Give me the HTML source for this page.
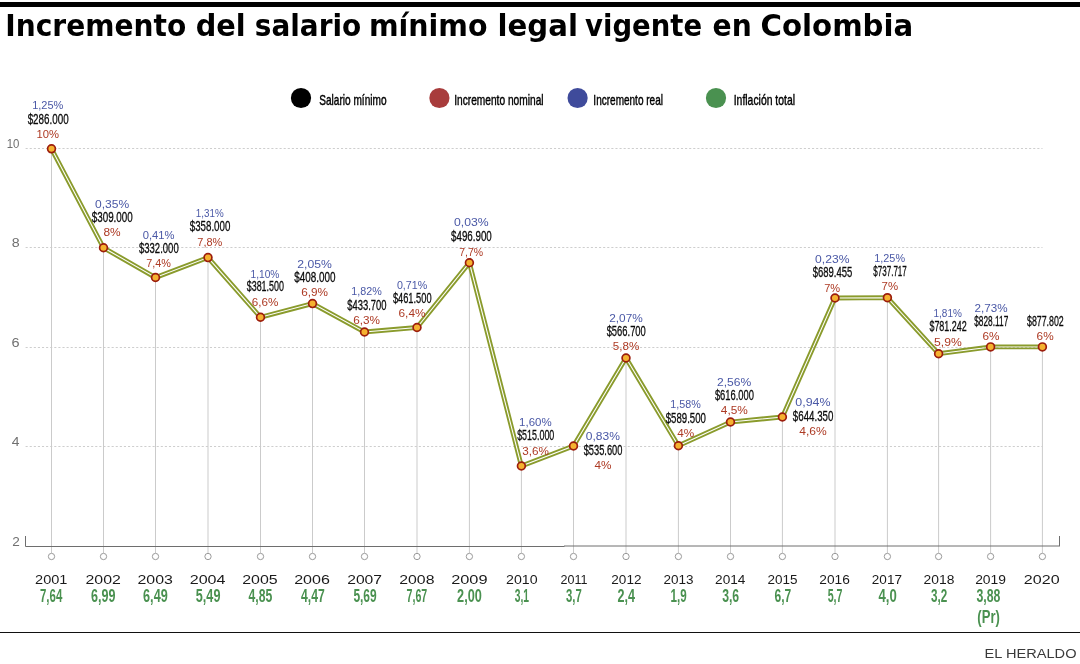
<!DOCTYPE html>
<html lang="es"><head><meta charset="utf-8"><title>Incremento del salario mínimo legal vigente en Colombia</title>
<style>html,body{margin:0;padding:0;background:#fff}svg{display:block}.c{font-family:'Liberation Sans', Arial, sans-serif}.w{font-family:'DejaVu Sans', 'Liberation Sans', sans-serif}</style></head><body>
<svg width="1080" height="664" viewBox="0 0 1080 664" role="img" aria-label="Incremento del salario mínimo legal vigente en Colombia">
<rect width="1080" height="664" fill="#fff"/>
<rect x="0" y="2" width="1080" height="5" fill="#000"/>
<g font-size="30.3" font-weight="bold" fill="#000">
<text class="w" x="5.32" y="36.00" textLength="180.88" lengthAdjust="spacingAndGlyphs">Incremento</text>
<text class="w" x="195.71" y="36.00" textLength="49.96" lengthAdjust="spacingAndGlyphs">del</text>
<text class="w" x="254.80" y="36.00" textLength="106.40" lengthAdjust="spacingAndGlyphs">salario</text>
<text class="w" x="368.89" y="36.00" textLength="118.58" lengthAdjust="spacingAndGlyphs">mínimo</text>
<text class="w" x="497.55" y="36.00" textLength="80.40" lengthAdjust="spacingAndGlyphs">legal</text>
<text class="w" x="585.08" y="36.00" textLength="116.99" lengthAdjust="spacingAndGlyphs">vigente</text>
<text class="w" x="712.54" y="36.00" textLength="39.16" lengthAdjust="spacingAndGlyphs">en</text>
<text class="w" x="760.54" y="36.00" textLength="152.75" lengthAdjust="spacingAndGlyphs">Colombia</text>
</g>
<circle cx="301" cy="98" r="10.1" fill="#000"/>
<circle cx="439.4" cy="98" r="10.1" fill="#a83c3c"/>
<circle cx="577.6" cy="98" r="10.1" fill="#3f4b9b"/>
<circle cx="716" cy="98" r="10.1" fill="#4a9150"/>
<g font-size="14.4" fill="#000" stroke="#000" stroke-width="0.42">
<text class="c" x="319.24" y="104.90" textLength="67.28" lengthAdjust="spacingAndGlyphs">Salario mínimo</text>
<text class="c" x="454.16" y="104.90" textLength="89.42" lengthAdjust="spacingAndGlyphs">Incremento nominal</text>
<text class="c" x="593.37" y="104.90" textLength="69.60" lengthAdjust="spacingAndGlyphs">Incremento real</text>
<text class="c" x="733.74" y="104.90" textLength="61.26" lengthAdjust="spacingAndGlyphs">Inflación total</text>
</g>
<g stroke="#cecece" stroke-width="1" stroke-dasharray="2.1 1.996" fill="none">
<line x1="25.6" y1="148.5" x2="1042.5" y2="148.5"/>
<line x1="25.6" y1="247.5" x2="1042.5" y2="247.5"/>
<line x1="25.6" y1="347.5" x2="1042.5" y2="347.5"/>
<line x1="25.6" y1="446.5" x2="1042.5" y2="446.5"/>
</g>
<g stroke="#cbcbcb" stroke-width="1" fill="none">
<line x1="51.5" y1="148.8" x2="51.5" y2="553.2"/>
<line x1="103.5" y1="247.75" x2="103.5" y2="553.2"/>
<line x1="155.5" y1="277.5" x2="155.5" y2="553.2"/>
<line x1="208.0" y1="257.6" x2="208.0" y2="553.2"/>
<line x1="260.5" y1="317.25" x2="260.5" y2="553.2"/>
<line x1="312.5" y1="303.6" x2="312.5" y2="553.2"/>
<line x1="364.5" y1="332" x2="364.5" y2="553.2"/>
<line x1="417.0" y1="327.5" x2="417.0" y2="553.2"/>
<line x1="469.4" y1="262.75" x2="469.4" y2="553.2"/>
<line x1="521.4" y1="466" x2="521.4" y2="553.2"/>
<line x1="573.5" y1="446" x2="573.5" y2="553.2"/>
<line x1="626.0" y1="358" x2="626.0" y2="553.2"/>
<line x1="678.4" y1="445.75" x2="678.4" y2="553.2"/>
<line x1="730.5" y1="422" x2="730.5" y2="553.2"/>
<line x1="782.4" y1="417" x2="782.4" y2="553.2"/>
<line x1="835.0" y1="298" x2="835.0" y2="553.2"/>
<line x1="887.4" y1="297.7" x2="887.4" y2="553.2"/>
<line x1="938.6" y1="353.75" x2="938.6" y2="553.2"/>
<line x1="990.6" y1="346.9" x2="990.6" y2="553.2"/>
<line x1="1042.4" y1="346.9" x2="1042.4" y2="553.2"/>
</g>
<path d="M25.5 536V546.5H564.5M564 546H1059M1059.5 536V546.5" fill="none" stroke="#6e6e6e" stroke-width="1"/>
<g stroke="#9a9a9a" stroke-width="1" fill="#fff">
<circle cx="51.5" cy="556.5" r="3.15"/>
<circle cx="103.5" cy="556.5" r="3.15"/>
<circle cx="155.5" cy="556.5" r="3.15"/>
<circle cx="208.0" cy="556.5" r="3.15"/>
<circle cx="260.5" cy="556.5" r="3.15"/>
<circle cx="312.5" cy="556.5" r="3.15"/>
<circle cx="364.5" cy="556.5" r="3.15"/>
<circle cx="417.0" cy="556.5" r="3.15"/>
<circle cx="469.4" cy="556.5" r="3.15"/>
<circle cx="521.4" cy="556.5" r="3.15"/>
<circle cx="573.5" cy="556.5" r="3.15"/>
<circle cx="626.0" cy="556.5" r="3.15"/>
<circle cx="678.4" cy="556.5" r="3.15"/>
<circle cx="730.5" cy="556.5" r="3.15"/>
<circle cx="782.4" cy="556.5" r="3.15"/>
<circle cx="835.0" cy="556.5" r="3.15"/>
<circle cx="887.4" cy="556.5" r="3.15"/>
<circle cx="938.6" cy="556.5" r="3.15"/>
<circle cx="990.6" cy="556.5" r="3.15"/>
<circle cx="1042.4" cy="556.5" r="3.15"/>
</g>
<g font-size="12.6" fill="#707070">
<text class="c" x="6.73" y="147.70" textLength="12.72" lengthAdjust="spacingAndGlyphs">10</text>
<text class="c" x="11.68" y="247.20" textLength="7.94" lengthAdjust="spacingAndGlyphs">8</text>
<text class="c" x="11.56" y="347.20" textLength="8.07" lengthAdjust="spacingAndGlyphs">6</text>
<text class="c" x="11.68" y="446.20" textLength="7.72" lengthAdjust="spacingAndGlyphs">4</text>
<text class="c" x="12.32" y="545.80" textLength="7.57" lengthAdjust="spacingAndGlyphs">2</text>
</g>
<mask id="m" maskUnits="userSpaceOnUse" x="0" y="0" width="1080" height="664"><path d="M51.5 148.8 L103.5 247.75 L155.5 277.5 L208.0 257.6 L260.5 317.25 L312.5 303.6 L364.5 332 L417.0 327.5 L469.4 262.75 L521.4 466 L573.5 446 L626.0 358 L678.4 445.75 L730.5 422 L782.4 417 L835.0 298 L887.4 297.7 L938.6 353.75 L990.6 346.9 L1042.4 346.9" fill="none" stroke="#fff" stroke-width="4.8" stroke-linejoin="miter"/><path d="M51.5 148.8 L103.5 247.75 L155.5 277.5 L208.0 257.6 L260.5 317.25 L312.5 303.6 L364.5 332 L417.0 327.5 L469.4 262.75 L521.4 466 L573.5 446 L626.0 358 L678.4 445.75 L730.5 422 L782.4 417 L835.0 298 L887.4 297.7 L938.6 353.75 L990.6 346.9 L1042.4 346.9" fill="none" stroke="#000" stroke-width="1.05" stroke-linejoin="miter"/></mask>
<rect x="0" y="100" width="1080" height="420" fill="#8a9b2c" mask="url(#m)"/>
<g fill="#f5b230" stroke="#9c1d0d" stroke-width="1.7">
<circle cx="51.5" cy="148.8" r="3.9"/>
<circle cx="103.5" cy="247.75" r="3.9"/>
<circle cx="155.5" cy="277.5" r="3.9"/>
<circle cx="208.0" cy="257.6" r="3.9"/>
<circle cx="260.5" cy="317.25" r="3.9"/>
<circle cx="312.5" cy="303.6" r="3.9"/>
<circle cx="364.5" cy="332" r="3.9"/>
<circle cx="417.0" cy="327.5" r="3.9"/>
<circle cx="469.4" cy="262.75" r="3.9"/>
<circle cx="521.4" cy="466" r="3.9"/>
<circle cx="573.5" cy="446" r="3.9"/>
<circle cx="626.0" cy="358" r="3.9"/>
<circle cx="678.4" cy="445.75" r="3.9"/>
<circle cx="730.5" cy="422" r="3.9"/>
<circle cx="782.4" cy="417" r="3.9"/>
<circle cx="835.0" cy="298" r="3.9"/>
<circle cx="887.4" cy="297.7" r="3.9"/>
<circle cx="938.6" cy="353.75" r="3.9"/>
<circle cx="990.6" cy="346.9" r="3.9"/>
<circle cx="1042.4" cy="346.9" r="3.9"/>
</g>
<g font-size="11.2" fill="#4a58a6">
<text class="c" x="32.16" y="109.10" textLength="31.23" lengthAdjust="spacingAndGlyphs">1,25%</text>
<text class="c" x="95.00" y="207.50" textLength="34.15" lengthAdjust="spacingAndGlyphs">0,35%</text>
<text class="c" x="142.76" y="239.00" textLength="31.84" lengthAdjust="spacingAndGlyphs">0,41%</text>
<text class="c" x="195.78" y="217.00" textLength="27.85" lengthAdjust="spacingAndGlyphs">1,31%</text>
<text class="c" x="250.55" y="277.50" textLength="28.89" lengthAdjust="spacingAndGlyphs">1,10%</text>
<text class="c" x="297.29" y="267.75" textLength="34.55" lengthAdjust="spacingAndGlyphs">2,05%</text>
<text class="c" x="351.26" y="295.25" textLength="30.45" lengthAdjust="spacingAndGlyphs">1,82%</text>
<text class="c" x="396.93" y="289.00" textLength="30.30" lengthAdjust="spacingAndGlyphs">0,71%</text>
<text class="c" x="453.95" y="226.25" textLength="34.66" lengthAdjust="spacingAndGlyphs">0,03%</text>
<text class="c" x="519.10" y="425.50" textLength="32.53" lengthAdjust="spacingAndGlyphs">1,60%</text>
<text class="c" x="585.80" y="440.40" textLength="34.15" lengthAdjust="spacingAndGlyphs">0,83%</text>
<text class="c" x="609.26" y="321.50" textLength="33.52" lengthAdjust="spacingAndGlyphs">2,07%</text>
<text class="c" x="670.26" y="408.00" textLength="30.45" lengthAdjust="spacingAndGlyphs">1,58%</text>
<text class="c" x="717.02" y="385.50" textLength="34.29" lengthAdjust="spacingAndGlyphs">2,56%</text>
<text class="c" x="795.34" y="406.25" textLength="35.18" lengthAdjust="spacingAndGlyphs">0,94%</text>
<text class="c" x="815.08" y="262.75" textLength="34.41" lengthAdjust="spacingAndGlyphs">0,23%</text>
<text class="c" x="874.32" y="261.75" textLength="30.71" lengthAdjust="spacingAndGlyphs">1,25%</text>
<text class="c" x="933.51" y="317.00" textLength="28.37" lengthAdjust="spacingAndGlyphs">1,81%</text>
<text class="c" x="974.51" y="311.50" textLength="33.00" lengthAdjust="spacingAndGlyphs">2,73%</text>
</g>
<g font-size="14.8" fill="#0a0a0a" stroke="#0a0a0a" stroke-width="0.3">
<text class="c" x="27.64" y="123.75" textLength="40.99" lengthAdjust="spacingAndGlyphs">$286.000</text>
<text class="c" x="91.74" y="222.00" textLength="40.99" lengthAdjust="spacingAndGlyphs">$309.000</text>
<text class="c" x="138.97" y="253.25" textLength="39.72" lengthAdjust="spacingAndGlyphs">$332.000</text>
<text class="c" x="189.80" y="231.25" textLength="40.48" lengthAdjust="spacingAndGlyphs">$358.000</text>
<text class="c" x="246.73" y="291.25" textLength="37.19" lengthAdjust="spacingAndGlyphs">$381.500</text>
<text class="c" x="294.17" y="281.75" textLength="41.24" lengthAdjust="spacingAndGlyphs">$408.000</text>
<text class="c" x="347.22" y="309.50" textLength="39.22" lengthAdjust="spacingAndGlyphs">$433.700</text>
<text class="c" x="392.88" y="303.25" textLength="38.71" lengthAdjust="spacingAndGlyphs">$461.500</text>
<text class="c" x="451.07" y="240.75" textLength="40.74" lengthAdjust="spacingAndGlyphs">$496.900</text>
<text class="c" x="517.13" y="440.00" textLength="37.19" lengthAdjust="spacingAndGlyphs">$515.000</text>
<text class="c" x="583.68" y="454.50" textLength="38.71" lengthAdjust="spacingAndGlyphs">$535.600</text>
<text class="c" x="606.65" y="335.60" textLength="39.17" lengthAdjust="spacingAndGlyphs">$566.700</text>
<text class="c" x="665.72" y="422.50" textLength="40.23" lengthAdjust="spacingAndGlyphs">$589.500</text>
<text class="c" x="714.90" y="400.00" textLength="38.97" lengthAdjust="spacingAndGlyphs">$616.000</text>
<text class="c" x="792.85" y="420.50" textLength="40.48" lengthAdjust="spacingAndGlyphs">$644.350</text>
<text class="c" x="812.70" y="277.00" textLength="39.50" lengthAdjust="spacingAndGlyphs">$689.455</text>
<text class="c" x="873.31" y="276.00" textLength="33.49" lengthAdjust="spacingAndGlyphs">$737.717</text>
<text class="c" x="929.43" y="331.25" textLength="37.30" lengthAdjust="spacingAndGlyphs">$781.242</text>
<text class="c" x="974.26" y="325.70" textLength="34.01" lengthAdjust="spacingAndGlyphs">$828.117</text>
<text class="c" x="1027.01" y="325.70" textLength="36.74" lengthAdjust="spacingAndGlyphs">$877.802</text>
</g>
<g font-size="11.2" fill="#ad3a24">
<text class="c" x="36.52" y="137.90" textLength="22.51" lengthAdjust="spacingAndGlyphs">10%</text>
<text class="c" x="103.46" y="236.40" textLength="17.19" lengthAdjust="spacingAndGlyphs">8%</text>
<text class="c" x="146.27" y="267.40" textLength="24.69" lengthAdjust="spacingAndGlyphs">7,4%</text>
<text class="c" x="197.34" y="245.90" textLength="24.95" lengthAdjust="spacingAndGlyphs">7,8%</text>
<text class="c" x="251.86" y="305.90" textLength="26.51" lengthAdjust="spacingAndGlyphs">6,6%</text>
<text class="c" x="301.18" y="296.15" textLength="26.77" lengthAdjust="spacingAndGlyphs">6,9%</text>
<text class="c" x="353.23" y="323.90" textLength="26.77" lengthAdjust="spacingAndGlyphs">6,3%</text>
<text class="c" x="398.50" y="317.40" textLength="27.03" lengthAdjust="spacingAndGlyphs">6,4%</text>
<text class="c" x="459.26" y="255.90" textLength="23.91" lengthAdjust="spacingAndGlyphs">7,7%</text>
<text class="c" x="522.28" y="454.70" textLength="26.61" lengthAdjust="spacingAndGlyphs">3,6%</text>
<text class="c" x="594.51" y="468.90" textLength="16.94" lengthAdjust="spacingAndGlyphs">4%</text>
<text class="c" x="612.89" y="350.15" textLength="26.38" lengthAdjust="spacingAndGlyphs">5,8%</text>
<text class="c" x="677.31" y="436.65" textLength="16.94" lengthAdjust="spacingAndGlyphs">4%</text>
<text class="c" x="720.85" y="414.40" textLength="26.94" lengthAdjust="spacingAndGlyphs">4,5%</text>
<text class="c" x="799.30" y="434.90" textLength="27.46" lengthAdjust="spacingAndGlyphs">4,6%</text>
<text class="c" x="824.23" y="291.65" textLength="15.96" lengthAdjust="spacingAndGlyphs">7%</text>
<text class="c" x="881.56" y="290.40" textLength="16.49" lengthAdjust="spacingAndGlyphs">7%</text>
<text class="c" x="934.04" y="345.90" textLength="27.67" lengthAdjust="spacingAndGlyphs">5,9%</text>
<text class="c" x="982.50" y="340.00" textLength="17.02" lengthAdjust="spacingAndGlyphs">6%</text>
<text class="c" x="1036.60" y="340.00" textLength="17.02" lengthAdjust="spacingAndGlyphs">6%</text>
</g>
<g font-size="13" fill="#1a1a1a">
<text class="c" x="35.07" y="583.70" textLength="32.34" lengthAdjust="spacingAndGlyphs">2001</text>
<text class="c" x="85.55" y="583.70" textLength="35.30" lengthAdjust="spacingAndGlyphs">2002</text>
<text class="c" x="137.50" y="583.70" textLength="35.40" lengthAdjust="spacingAndGlyphs">2003</text>
<text class="c" x="189.69" y="583.70" textLength="35.78" lengthAdjust="spacingAndGlyphs">2004</text>
<text class="c" x="242.20" y="583.70" textLength="35.47" lengthAdjust="spacingAndGlyphs">2005</text>
<text class="c" x="294.17" y="583.70" textLength="35.76" lengthAdjust="spacingAndGlyphs">2006</text>
<text class="c" x="347.19" y="583.70" textLength="34.82" lengthAdjust="spacingAndGlyphs">2007</text>
<text class="c" x="399.23" y="583.70" textLength="35.23" lengthAdjust="spacingAndGlyphs">2008</text>
<text class="c" x="451.20" y="583.70" textLength="36.35" lengthAdjust="spacingAndGlyphs">2009</text>
<text class="c" x="506.06" y="583.70" textLength="31.52" lengthAdjust="spacingAndGlyphs">2010</text>
<text class="c" x="560.59" y="583.70" textLength="26.99" lengthAdjust="spacingAndGlyphs">2011</text>
<text class="c" x="611.34" y="583.70" textLength="30.11" lengthAdjust="spacingAndGlyphs">2012</text>
<text class="c" x="663.55" y="583.70" textLength="30.02" lengthAdjust="spacingAndGlyphs">2013</text>
<text class="c" x="715.09" y="583.70" textLength="30.34" lengthAdjust="spacingAndGlyphs">2014</text>
<text class="c" x="767.55" y="583.70" textLength="29.99" lengthAdjust="spacingAndGlyphs">2015</text>
<text class="c" x="819.28" y="583.70" textLength="30.54" lengthAdjust="spacingAndGlyphs">2016</text>
<text class="c" x="871.84" y="583.70" textLength="30.11" lengthAdjust="spacingAndGlyphs">2017</text>
<text class="c" x="923.55" y="583.70" textLength="30.80" lengthAdjust="spacingAndGlyphs">2018</text>
<text class="c" x="975.15" y="583.70" textLength="30.85" lengthAdjust="spacingAndGlyphs">2019</text>
<text class="c" x="1023.89" y="583.70" textLength="35.74" lengthAdjust="spacingAndGlyphs">2020</text>
</g>
<g font-size="18.5" font-weight="bold" fill="#4a9150">
<text class="c" x="40.01" y="601.50" textLength="22.25" lengthAdjust="spacingAndGlyphs">7,64</text>
<text class="c" x="91.09" y="601.50" textLength="24.43" lengthAdjust="spacingAndGlyphs">6,99</text>
<text class="c" x="143.09" y="601.50" textLength="24.63" lengthAdjust="spacingAndGlyphs">6,49</text>
<text class="c" x="195.84" y="601.50" textLength="24.61" lengthAdjust="spacingAndGlyphs">5,49</text>
<text class="c" x="248.59" y="601.50" textLength="23.77" lengthAdjust="spacingAndGlyphs">4,85</text>
<text class="c" x="301.07" y="601.50" textLength="23.72" lengthAdjust="spacingAndGlyphs">4,47</text>
<text class="c" x="353.38" y="601.50" textLength="23.31" lengthAdjust="spacingAndGlyphs">5,69</text>
<text class="c" x="406.57" y="601.50" textLength="20.67" lengthAdjust="spacingAndGlyphs">7,67</text>
<text class="c" x="457.08" y="601.50" textLength="24.71" lengthAdjust="spacingAndGlyphs">2,00</text>
<text class="c" x="514.79" y="601.50" textLength="14.27" lengthAdjust="spacingAndGlyphs">3,1</text>
<text class="c" x="565.99" y="601.50" textLength="15.76" lengthAdjust="spacingAndGlyphs">3,7</text>
<text class="c" x="617.56" y="601.50" textLength="17.50" lengthAdjust="spacingAndGlyphs">2,4</text>
<text class="c" x="670.52" y="601.50" textLength="16.16" lengthAdjust="spacingAndGlyphs">1,9</text>
<text class="c" x="722.19" y="601.50" textLength="16.97" lengthAdjust="spacingAndGlyphs">3,6</text>
<text class="c" x="774.58" y="601.50" textLength="16.72" lengthAdjust="spacingAndGlyphs">6,7</text>
<text class="c" x="827.67" y="601.50" textLength="14.80" lengthAdjust="spacingAndGlyphs">5,7</text>
<text class="c" x="878.55" y="601.50" textLength="18.24" lengthAdjust="spacingAndGlyphs">4,0</text>
<text class="c" x="930.98" y="601.50" textLength="16.24" lengthAdjust="spacingAndGlyphs">3,2</text>
<text class="c" x="976.42" y="601.50" textLength="23.96" lengthAdjust="spacingAndGlyphs">3,88</text>
<text class="c" x="977.35" y="622.90" textLength="22.50" lengthAdjust="spacingAndGlyphs">(Pr)</text>
</g>
<rect x="0" y="632" width="1080" height="1" fill="#111"/>
<g font-size="12.5" fill="#3a3a3a">
<text class="c" x="984.60" y="657.80" textLength="91.89" lengthAdjust="spacingAndGlyphs">EL HERALDO</text>
</g>
</svg></body></html>
